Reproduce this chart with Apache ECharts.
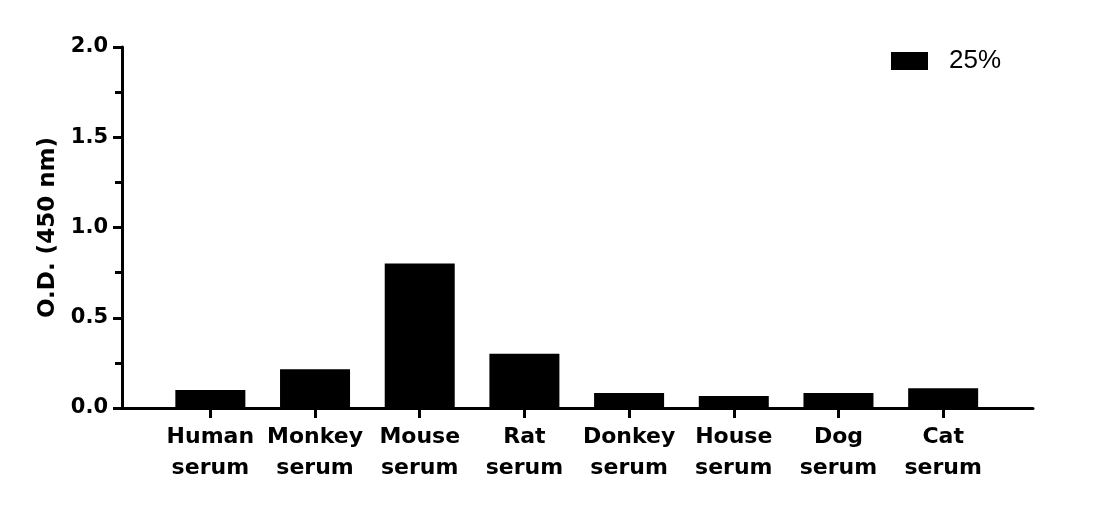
<!DOCTYPE html>
<html>
<head>
<meta charset="utf-8">
<script src="https://cdn.jsdelivr.net/npm/echarts@6/dist/echarts.min.js"></script>
<style>
html,body{margin:0;padding:0;background:#fff;}
#chart{width:1112px;height:507px;}
</style>
</head>
<body>
<div id="chart"></div>
<script>
var categories = ['Human\nserum','Monkey\nserum','Mouse\nserum','Rat\nserum','Donkey\nserum','House\nserum','Dog\nserum','Cat\nserum'];
var seriesName = '25%';
var values = [0.10, 0.215, 0.80, 0.30, 0.083, 0.066, 0.083, 0.11];
var yTicks = {min: 0, max: 2.0, interval: 0.5};
var yAxisTitle = 'O.D. (450 nm)';

var chart = echarts.init(document.getElementById('chart'));
var boldFont = 'DejaVu Sans';
chart.setOption({
  backgroundColor: '#fff',
  animation: false,
  legend: {
    left: 891, top: 48, padding: 0,
    icon: 'rect',
    itemWidth: 37, itemHeight: 18,
    data: [seriesName],
    textStyle: {fontFamily: 'Liberation Sans', fontSize: 26, color: '#000', padding: [0,0,0,16]}
  },
  grid: [
    {left: 158, right: 116.5, top: 47, bottom: 99},
    {left: 122, right: 79, top: 47, bottom: 99}
  ],
  xAxis: [
    {
      gridIndex: 0, type: 'category', data: categories, boundaryGap: true,
      axisLine: {show: false},
      axisTick: {show: true, alignWithLabel: true, length: 10, lineStyle: {color: '#000', width: 3}},
      axisLabel: {color: '#000', fontFamily: boldFont, fontWeight: 'bold', fontSize: 22, lineHeight: 31, margin: 14, interval: 0}
    },
    {
      gridIndex: 1, type: 'value', min: 0, max: 1,
      axisLine: {show: true, lineStyle: {color: '#000', width: 3}},
      axisTick: {show: false}, axisLabel: {show: false}, splitLine: {show: false}
    }
  ],
  yAxis: [
    {
      gridIndex: 0, type: 'value', min: yTicks.min, max: yTicks.max, interval: yTicks.interval,
      show: false, splitLine: {show: false}
    },
    {
      gridIndex: 1, type: 'value', min: yTicks.min, max: yTicks.max, interval: yTicks.interval,
      name: yAxisTitle, nameLocation: 'middle', nameGap: 62, nameRotate: 90,
      nameTextStyle: {color: '#000', fontFamily: boldFont, fontWeight: 'bold', fontSize: 23},
      axisLine: {show: true, lineStyle: {color: '#000', width: 3}},
      axisTick: {show: true, inside: false, length: 9, lineStyle: {color: '#000', width: 3}},
      minorTick: {show: true, splitNumber: 2, length: 7, lineStyle: {color: '#000', width: 3}},
      axisLabel: {color: '#000', fontFamily: boldFont, fontWeight: 'bold', fontSize: 21, margin: 14,
        formatter: function (v) { return v.toFixed(1); }},
      splitLine: {show: false}
    }
  ],
  series: [
    {
      name: seriesName, type: 'bar', xAxisIndex: 0, yAxisIndex: 0,
      data: values, barWidth: 70,
      itemStyle: {color: '#000'}
    }
  ]
});
</script>
</body>
</html>
